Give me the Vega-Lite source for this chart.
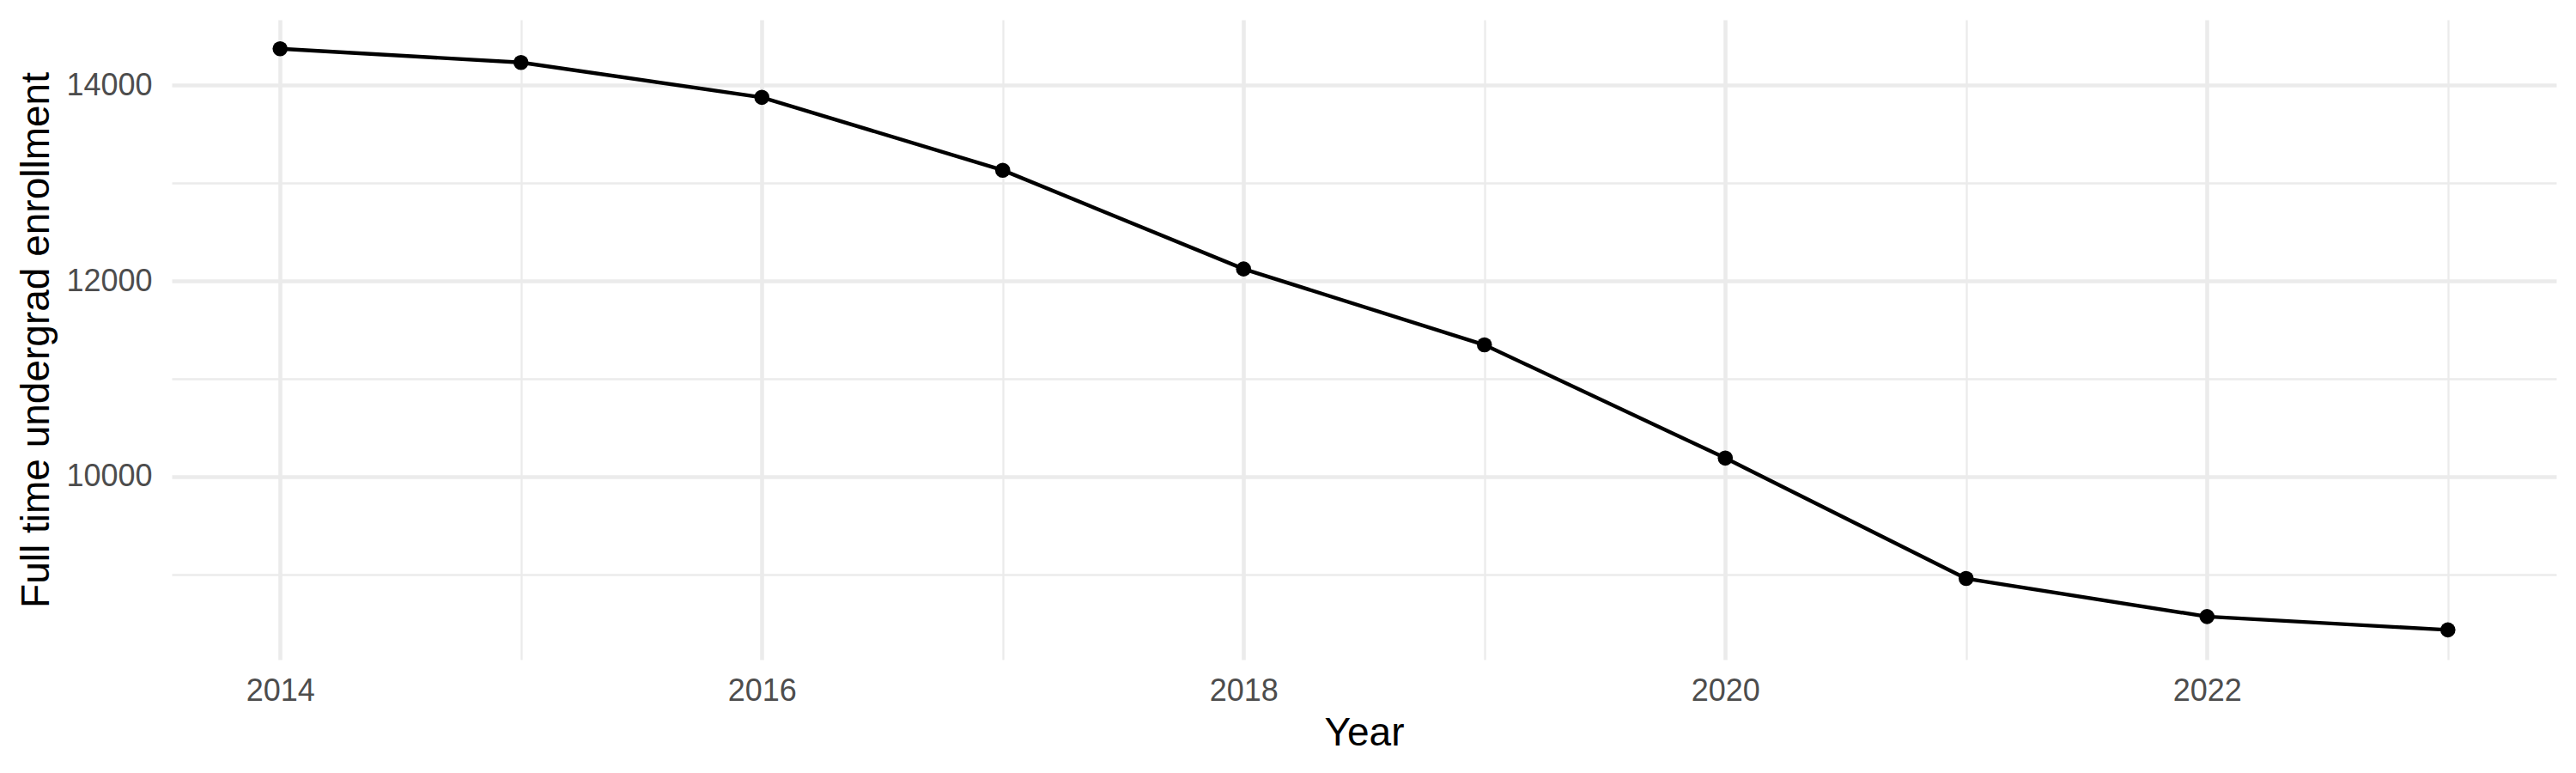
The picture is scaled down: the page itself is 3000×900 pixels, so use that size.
{
  "$schema": "https://vega.github.io/schema/vega-lite/v6.json",
  "width": 2777,
  "height": 745,
  "autosize": {"type": "none"},
  "padding": {"left": 200, "top": 23, "right": 23, "bottom": 132},
  "background": "white",
  "config": {
    "view": {"stroke": null},
    "font": "Liberation Sans",
    "axis": {
      "domain": false,
      "ticks": false,
      "tickSize": 0,
      "gridColor": "#EBEBEB",
      "labelColor": "#4D4D4D",
      "labelFont": "Liberation Sans",
      "labelFontSize": 36,
      "titleFont": "Liberation Sans",
      "titleFontSize": 46,
      "titleFontWeight": "normal",
      "titleColor": "black"
    }
  },
  "data": {
    "values": [
      {"Year": 2014, "Enrollment": 14374},
      {"Year": 2015, "Enrollment": 14233},
      {"Year": 2016, "Enrollment": 13877},
      {"Year": 2017, "Enrollment": 13132},
      {"Year": 2018, "Enrollment": 12123},
      {"Year": 2019, "Enrollment": 11347},
      {"Year": 2020, "Enrollment": 10190},
      {"Year": 2021, "Enrollment": 8959},
      {"Year": 2022, "Enrollment": 8570},
      {"Year": 2023, "Enrollment": 8434}
    ]
  },
  "encoding": {
    "x": {
      "field": "Year",
      "type": "quantitative",
      "scale": {"domain": [2013.55, 2023.45], "nice": false, "zero": false},
      "axis": {
        "title": "Year",
        "values": [2014, 2015, 2016, 2017, 2018, 2019, 2020, 2021, 2022, 2023],
        "format": "d",
        "labelExpr": "datum.value % 2 === 0 ? datum.label : ''",
        "gridWidth": {"condition": {"test": "datum.value % 2 === 1", "value": 2.3}, "value": 4.6},
        "labelPadding": 47,
        "labelBaseline": "alphabetic",
        "titleBaseline": "alphabetic",
        "titleY": 99
      }
    },
    "y": {
      "field": "Enrollment",
      "type": "quantitative",
      "scale": {"domain": [8130, 14670], "nice": false, "zero": false},
      "axis": {
        "title": "Full time undergrad enrollment",
        "values": [9000, 10000, 11000, 12000, 13000, 14000],
        "format": "d",
        "labelExpr": "datum.value % 2000 === 0 ? datum.label : ''",
        "gridWidth": {"condition": {"test": "datum.value % 2000 !== 0", "value": 2.3}, "value": 4.6},
        "labelPadding": 23,
        "titleBaseline": "alphabetic",
        "titleX": -144
      }
    }
  },
  "layer": [
    {"mark": {"type": "line", "color": "black", "strokeWidth": 4.4}},
    {"mark": {"type": "point", "filled": true, "color": "black", "opacity": 1, "size": 310}}
  ]
}
